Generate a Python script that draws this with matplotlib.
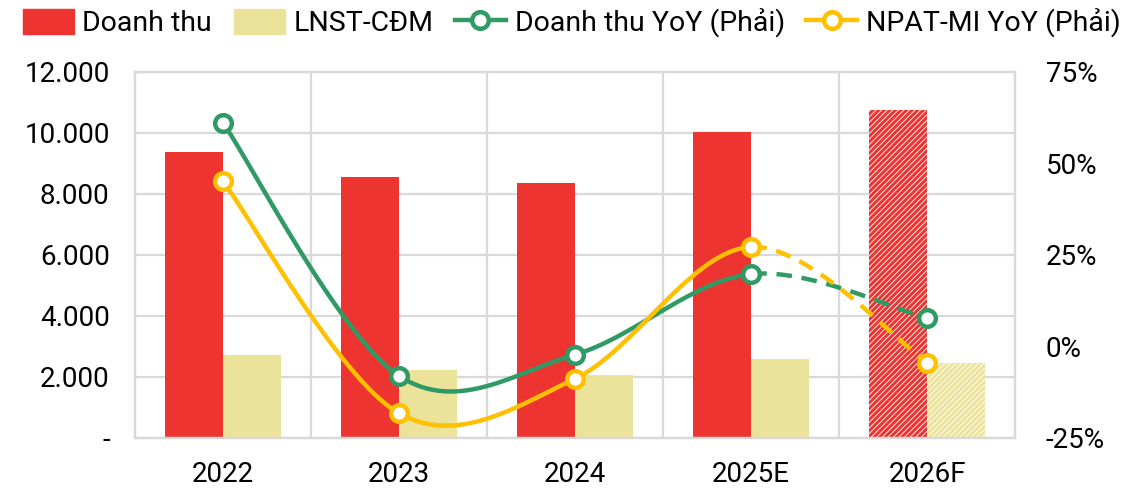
import numpy as np
import matplotlib
matplotlib.use('Agg')
import matplotlib.pyplot as plt
from matplotlib.lines import Line2D
from matplotlib.patches import Patch
from matplotlib.ticker import FuncFormatter

plt.rcParams['font.family'] = ['Roboto', 'DejaVu Sans']
plt.rcParams['hatch.linewidth'] = 2.2

years = ['2022', '2023', '2024', '2025E', '2026F']
revenue = [9360, 8560, 8350, 10020, 10740]
npat = [2710, 2220, 2060, 2580, 2440]
revenue_yoy = [61.1, -8.1, -2.3, 19.7, 7.6]
npat_yoy = [45.1, -18.3, -8.9, 27.1, -4.5]
n_actual = 4  # first forecast column starts after this many years

RED = '#EE3431'
BEIGE = '#EBE39A'
GREEN = '#2F9A64'
YELLOW = '#FFC000'
GRID = '#D9D9D9'


def smooth(xs, ys, steps=40):
    """Excel-style smoothed line: cubic Bezier segments with 1/6 tangents."""
    p = np.column_stack([xs, ys]).astype(float)
    pts = np.vstack([p[0], p, p[-1]])
    segs = []
    for i in range(1, len(pts) - 2):
        p0, p1, p2, p3 = pts[i - 1], pts[i], pts[i + 1], pts[i + 2]
        c1 = p1 + (p2 - p0) / 6
        c2 = p2 - (p3 - p1) / 6
        t = np.linspace(0, 1, steps)[:, None]
        seg = ((1 - t) ** 3 * p1 + 3 * (1 - t) ** 2 * t * c1
               + 3 * (1 - t) * t ** 2 * c2 + t ** 3 * p2)
        segs.append(seg)
    return segs


fig = plt.figure(figsize=(11.32, 4.91), dpi=100)
ax = fig.add_axes([0.119, 0.1086, 0.778, 0.7455])
ax2 = ax.twinx()

x = np.arange(len(years))
w = 0.33
for i in range(len(years)):
    if i < n_actual:
        ax.bar(x[i] - w / 2, revenue[i], w, color=RED, zorder=2)
        ax.bar(x[i] + w / 2, npat[i], w, color=BEIGE, zorder=2)
    else:
        ax.bar(x[i] - w / 2, revenue[i], w, facecolor='white', edgecolor=RED,
               hatch='//////', linewidth=0, zorder=2)
        ax.bar(x[i] + w / 2, npat[i], w, facecolor='white', edgecolor=BEIGE,
               hatch='//////', linewidth=0, zorder=2)

ax.set_xlim(-0.5, len(years) - 0.5)
ax.set_ylim(0, 12000)
ax.set_yticks(np.arange(0, 12001, 2000))
ax.yaxis.set_major_formatter(FuncFormatter(
    lambda v, _: '-' if v == 0 else f'{v:,.0f}'.replace(',', '.')))
ax.set_xticks(x)
ax.set_xticklabels(years)
ax.set_xticks(np.arange(0.5, len(years) - 0.5), minor=True)
ax.grid(axis='y', color=GRID, linewidth=1.6, zorder=0)
ax.grid(axis='x', which='minor', color=GRID, linewidth=1.6, zorder=0)
ax.tick_params(axis='both', which='both', length=0, labelsize=20)
ax.tick_params(axis='x', pad=17)
ax.tick_params(axis='y', pad=18)

ax2.set_ylim(-25, 75)
ax2.set_yticks([-25, 0, 25, 50, 75])
ax2.yaxis.set_major_formatter(FuncFormatter(lambda v, _: f'{v:.0f}%'))
ax2.tick_params(axis='y', length=0, labelsize=20, pad=22)

for a in (ax, ax2):
    for s in a.spines.values():
        s.set_color(GRID)
        s.set_linewidth(1.6)

for vals, col in [(revenue_yoy, GREEN), (npat_yoy, YELLOW)]:
    segs = smooth(x, vals)
    solid = np.vstack(segs[:n_actual - 1])
    dashed = np.vstack(segs[n_actual - 1:])
    ax2.plot(solid[:, 0], solid[:, 1], color=col, lw=3.2,
             solid_capstyle='round', zorder=3)
    ax2.plot(dashed[:, 0], dashed[:, 1], color=col, lw=3.2,
             dashes=(3.5, 2.2), zorder=3)
    ax2.plot(x, vals, 'o', ms=12, mfc='white', mec=col, mew=3.2, zorder=4)

handles = [
    Patch(color=RED),
    Patch(color=BEIGE),
    Line2D([], [], color=GREEN, lw=3.2, marker='o', ms=12, mfc='white',
           mec=GREEN, mew=3.2),
    Line2D([], [], color=YELLOW, lw=3.2, marker='o', ms=12, mfc='white',
           mec=YELLOW, mew=3.2),
]
labels = ['Doanh thu', 'LNST-CĐM', 'Doanh thu YoY (Phải)', 'NPAT-MI YoY (Phải)']
fig.legend(handles, labels, loc='upper center', bbox_to_anchor=(0.505, 1.035),
           ncol=4, frameon=False, fontsize=20.5, handlelength=1.8,
           handleheight=1.0, handletextpad=0.3, columnspacing=0.75)

fig.savefig('out.png', dpi=100)
